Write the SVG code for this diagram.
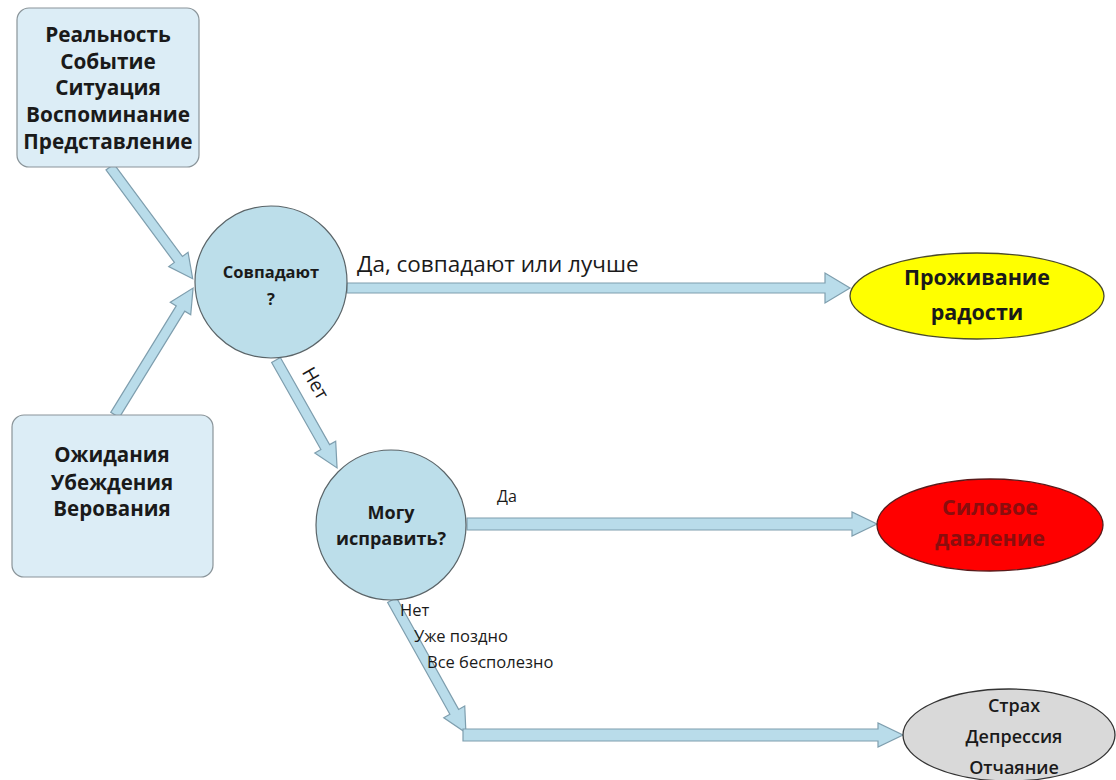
<svg xmlns="http://www.w3.org/2000/svg" width="1116" height="780" viewBox="0 0 1116 780">
<style>
.box{fill:#dcedf6;stroke:#8a9499;stroke-width:1.2}
.circ{fill:#bcdeea;stroke:#5a6468;stroke-width:1.2}
.arr{fill:#b9dcea;stroke:#7e9eae;stroke-width:1.2}
.b{font-family:"Open Sans","Noto Sans","DejaVu Sans",sans-serif;font-weight:bold;fill:#1a1a1a;text-anchor:middle}
.r{font-family:"Open Sans","Noto Sans","DejaVu Sans",sans-serif;fill:#1a1a1a}
</style>
<rect width="1116" height="780" fill="#ffffff"/>
<g id="connectors">
<polygon class="arr" points="0,-5 115,-5 115,-12 139,0 115,12 115,5 0,5" transform="translate(110,167) rotate(53.5)"/>
<polygon class="arr" points="0,-5 125,-5 125,-12 149,0 125,12 125,5 0,5" transform="translate(115,415) rotate(-58.4)"/>
<polygon class="arr" points="0,-5 478,-5 478,-15 503,0 478,15 478,5 0,5" transform="translate(347,288)"/>
<polygon class="arr" points="0,-5 100,-5 100,-12 124,0 100,12 100,5 0,5" transform="translate(276,360) rotate(60.5)"/>
<polygon class="arr" points="0,-6 385,-6 385,-12 410,0 385,12 385,6 0,6" transform="translate(467,524)"/>
<polygon class="arr" points="0,-5 128,-5 128,-12 152,0 128,12 128,5 0,5" transform="translate(392,600) rotate(60.9)"/>
<polygon class="arr" points="0,-6 415,-6 415,-12 440,0 415,12 415,6 0,6" transform="translate(463,735)"/>
<text class="r" font-size="22.5" x="357" y="272">Да, совпадают или лучше</text>
<text class="r" font-size="19" x="316" y="390" text-anchor="middle" transform="rotate(60 316 383)">Нет</text>
<text class="r" font-size="16" x="497" y="502">Да</text>
<text class="r" font-size="16.5" x="400" y="616">Нет</text>
<text class="r" font-size="16.5" x="414" y="642">Уже поздно</text>
<text class="r" font-size="16.5" x="427" y="668">Все бесполезно</text>
</g>
<g id="node-reality">
<rect class="box" x="17" y="8" width="182" height="159" rx="12"/>
<text class="b" font-size="20.8" x="108" y="42">Реальность</text>
<text class="b" font-size="20.8" x="108" y="69">Событие</text>
<text class="b" font-size="20.8" x="108" y="95">Ситуация</text>
<text class="b" font-size="20.8" x="108" y="122">Воспоминание</text>
<text class="b" font-size="20.8" x="108" y="149">Представление</text>
</g>
<g id="node-expect">
<rect class="box" x="12" y="415" width="201" height="162" rx="12"/>
<text class="b" font-size="20.5" x="112" y="462">Ожидания</text>
<text class="b" font-size="20.5" x="112" y="490">Убеждения</text>
<text class="b" font-size="20.5" x="112" y="516">Верования</text>
</g>
<g id="node-match">
<circle class="circ" cx="271" cy="282" r="76"/>
<text class="b" font-size="16.5" x="271" y="278">Совпадают</text>
<text class="b" font-size="16.5" x="271" y="305">?</text>
</g>
<g id="node-fix">
<circle class="circ" cx="391" cy="525" r="75"/>
<text class="b" font-size="18" x="391" y="519">Могу</text>
<text class="b" font-size="18" x="391" y="545">исправить?</text>
</g>
<g id="node-joy">
<ellipse cx="977" cy="296" rx="127" ry="43" fill="#ffff00" stroke="#4a4a2a" stroke-width="1.3"/>
<text class="b" font-size="21.5" x="977" y="285">Проживание</text>
<text class="b" font-size="21.5" x="977" y="320">радости</text>
</g>
<g id="node-force">
<ellipse cx="990" cy="525" rx="113" ry="46" fill="#ff0000" stroke="#5a1a1a" stroke-width="1.3"/>
<text class="b" font-size="21.5" x="990" y="515" style="fill:#8a0d0d">Силовое</text>
<text class="b" font-size="21.5" x="990" y="546" style="fill:#8a0d0d">давление</text>
</g>
<g id="node-fear">
<ellipse cx="1009" cy="735" rx="106" ry="46" fill="#d9d9d9" stroke="#333333" stroke-width="1.3"/>
<text class="b" font-size="18" x="1014" y="712" style="font-weight:600">Страх</text>
<text class="b" font-size="18" x="1014" y="743" style="font-weight:600">Депрессия</text>
<text class="b" font-size="18" x="1014" y="774" style="font-weight:600">Отчаяние</text>
</g>
</svg>
